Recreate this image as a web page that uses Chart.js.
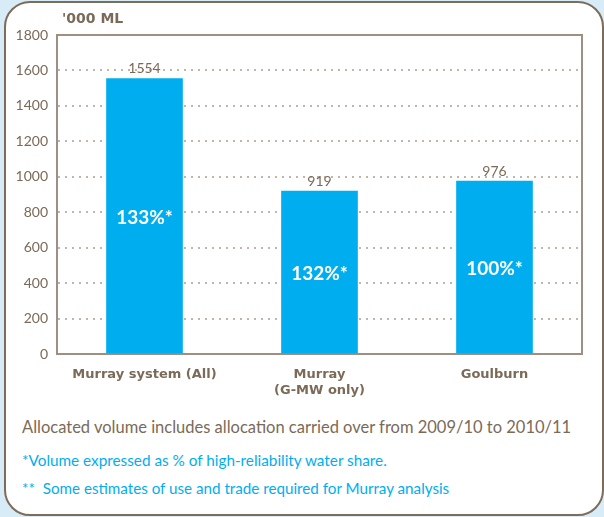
<!DOCTYPE html>
<html>
<head>
<meta charset="utf-8">
<script src="https://cdn.jsdelivr.net/npm/chart.js@4"></script>
<style>
  html, body { margin: 0; padding: 0; }
  body { width: 604px; height: 517px; background: #d8ecf7; position: relative; overflow: hidden; font-family: Lato, "Open Sans", sans-serif; }
  #card { position: absolute; left: 4px; top: 1px; width: 596px; height: 511px; background: #fff; border: 2px solid #7e6c5a; border-radius: 26px; }
  #chartWrap { position: absolute; left: 0; top: 0; width: 604px; height: 410px; }
  #unit { position: absolute; left: 62px; top: 10px; font-family: "DejaVu Sans", sans-serif; font-weight: bold; font-size: 14px; color: #7b6a58; }
  .note { position: absolute; left: 22px; white-space: nowrap; }
  #n1 { top: 417px; font-size: 16.5px; color: #7b6a58; }
  #n2 { top: 451px; font-size: 15.3px; color: #00aeef; }
  #n3 { top: 479px; font-size: 15.2px; color: #00aeef; }
</style>
</head>
<body>
<div id="card"></div>
<div id="chartWrap"><canvas id="c" width="604" height="410"></canvas></div>
<div id="unit">'000 ML</div>
<div class="note" id="n1">Allocated volume includes allocation carried over from 2009/10 to 2010/11</div>
<div class="note" id="n2">*Volume expressed as % of high-reliability water share.</div>
<div class="note" id="n3">**&nbsp; Some estimates of use and trade required for Murray analysis</div>
<script>
const categories = [["Murray system (All)"], ["Murray", "(G-MW only)"], ["Goulburn"]];
const volumes = [1554, 919, 976];
const shareLabels = ["133%*", "132%*", "100%*"];
const yTicks = [0, 200, 400, 600, 800, 1000, 1200, 1400, 1600, 1800];

const BROWN = "#7b6a58";
const FRAME = "#9d8f81";
const BLUE = "#00aeef";

const labelPlugin = {
  id: "labels",
  afterDatasetsDraw(chart) {
    const ctx = chart.ctx;
    const meta = chart.getDatasetMeta(0);
    ctx.save();
    ctx.textAlign = "center";
    meta.data.forEach((bar, i) => {
      ctx.fillStyle = BROWN;
      ctx.font = "14px Lato, sans-serif";
      ctx.textBaseline = "bottom";
      ctx.fillText(String(volumes[i]), bar.x, bar.y - 3);
      ctx.fillStyle = "#ffffff";
      ctx.font = "bold 19px Lato, sans-serif";
      ctx.textBaseline = "middle";
      ctx.fillText(shareLabels[i], bar.x, (bar.y + bar.base) / 2 + 2);
    });
    ctx.restore();
  },
  beforeDatasetsDraw(chart) {
    const { ctx, chartArea: a } = chart;
    ctx.save();
    ctx.strokeStyle = FRAME;
    ctx.lineWidth = 2;
    ctx.beginPath();
    ctx.moveTo(a.left, a.top);
    ctx.lineTo(a.right, a.top);
    ctx.lineTo(a.right, a.bottom);
    ctx.lineTo(a.left, a.bottom);
    ctx.closePath();
    ctx.stroke();
    ctx.restore();
  }
};

new Chart(document.getElementById("c"), {
  type: "bar",
  data: {
    labels: categories,
    datasets: [{
      data: volumes,
      backgroundColor: BLUE,
      borderWidth: 0,
      barThickness: 76
    }]
  },
  options: {
    responsive: false,
    animation: false,
    layout: { padding: { top: 35, right: 22, left: 0, bottom: 0 } },
    plugins: { legend: { display: false }, tooltip: { enabled: false } },
    scales: {
      y: {
        min: 0, max: 1800,
        afterBuildTicks(scale) { scale.ticks = yTicks.map(v => ({ value: v })); },
        afterFit(scale) { scale.width = 57; },
        ticks: { color: BROWN, font: { family: "Lato", size: 14 }, padding: 9, callback: (v) => String(v) },
        grid: {
          color: (c) => (c.tick && (c.tick.value === 0 || c.tick.value === 1800)) ? "rgba(0,0,0,0)" : "#c3b6a9",
          lineWidth: 2,
          drawTicks: false
        },
        border: { display: true, color: FRAME, width: 2, dash: [2, 5] }
      },
      x: {
        afterFit(scale) { scale.height = 56; },
        ticks: { color: BROWN, font: { family: "DejaVu Sans", size: 13, weight: "bold" }, padding: 13 },
        grid: { display: false, drawTicks: false },
        border: { display: true, color: FRAME, width: 2 }
      }
    }
  },
  plugins: [labelPlugin]
});
</script>
</body>
</html>
